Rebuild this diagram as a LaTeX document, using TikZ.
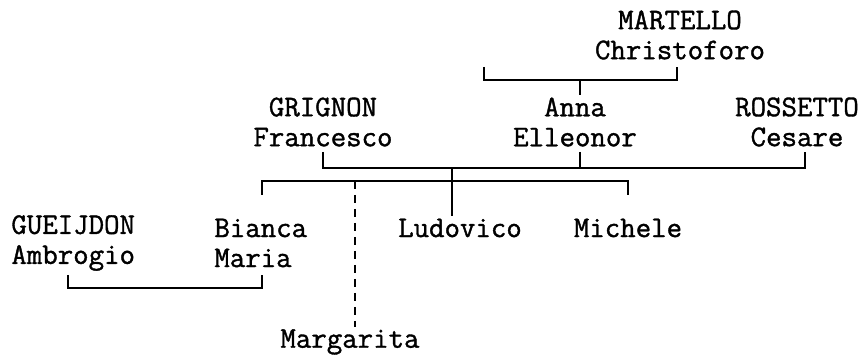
\documentclass[tikz,border=0pt]{standalone}
\usepackage{fontspec}
\newfontfamily\treefont[FakeBold=1.2]{Latin Modern Mono}
\usetikzlibrary{positioning}

\begin{document}
\begin{tikzpicture}[
    x=0.5pt, y=-0.5pt,
    person/.style={inner sep=1pt, align=center, font=\treefont\fontsize{15}{15}\selectfont},
    personl/.style={person, align=left, anchor=west},
    link/.style={line width=0.8pt},
    dashlink/.style={link, dash pattern=on 4pt off 3pt}
]
\useasboundingbox (0,0) rectangle (864,356);

% people
\node[person]  (christoforo) at (680,35)  {MARTELLO\\Christoforo};
\node[person]  (francesco)   at (323,122) {GRIGNON\\Francesco};
\node[person]  (elleonor)    at (575,122) {Anna\\Elleonor};
\node[person]  (cesare)      at (797,122) {ROSSETTO\\Cesare};
\node[personl] (ambrogio)    at (9,243)   {GUEIJDON\\Ambrogio};
\node[personl] (bianca)      at (212,243) {Bianca\\Maria};
\node[person]  (ludovico)    at (460,228) {Ludovico};
\node[person]  (michele)     at (628,228) {Michele};
\node[person]  (margarita)   at (350,342) {Margarita};

% bracket joints
\coordinate (mwife) at (484,67);
\coordinate (mhusb) at (677,67);
\coordinate (mjoin) at (580,80);
\coordinate (fhusb) at (323,152);
\coordinate (fwife) at (580,152);
\coordinate (chusb) at (805,152);
\coordinate (fjoin) at (452,168);
\coordinate (kids)  at (452,181);
\coordinate (kbia)  at (262,195);
\coordinate (kmic)  at (628,195);
\coordinate (kmar)  at (355,181);
\coordinate (ahusb) at (68,275);
\coordinate (bwife) at (262,275);

% Martello family
\draw[link] (mwife) |- (mjoin) -| (mhusb);
\draw[link] (mjoin) -- (mjoin |- elleonor.north);

% Grignon / Rossetto family
\draw[link] (fhusb) |- (fjoin) -| (chusb);
\draw[link] (fwife) -- (fwife |- fjoin);
\draw[link] (fjoin) -- (fjoin |- ludovico.north);
\draw[link] (kbia) |- (kids) -| (kmic);
\draw[dashlink] (kmar) -- (kmar |- margarita.north);

% Gueijdon marriage
\draw[link] (ahusb) -- ++(0,13) -| (bwife);
\end{tikzpicture}
\end{document}
